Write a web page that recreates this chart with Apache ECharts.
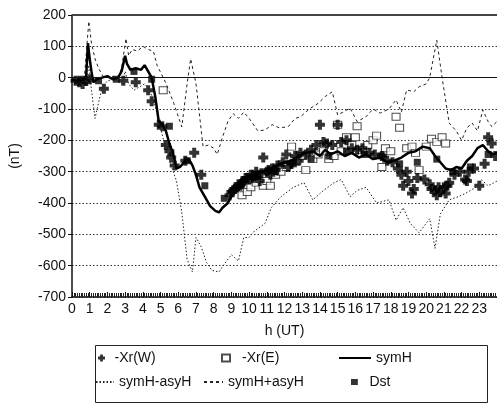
<!DOCTYPE html>
<html>
<head>
<meta charset="utf-8">
<script src="https://cdn.jsdelivr.net/npm/echarts@6/dist/echarts.min.js"></script>
<style>
  html, body { margin: 0; padding: 0; background: #fff; }
  #chart { width: 497px; height: 416px; }
</style>
</head>
<body>
<div id="chart"></div>
<script>
// axis ticks
var hourTicks = [0, 24, 1];          // min, max, step (h UT)
var nTTicks = [-700, 200, 100];      // min, max, step (nT)

// symH (solid line), [hour, nT]
var symH = [
  [0,-5],[0.3,-10],[0.6,-5],[0.8,5],[0.9,110],[1.0,60],[1.1,20],[1.2,-15],[1.4,-5],[1.7,0],
  [2.0,5],[2.3,-5],[2.6,0],[2.8,20],[3.0,70],[3.1,45],[3.3,25],[3.6,30],[3.9,25],[4.1,40],
  [4.3,20],[4.5,0],[4.7,-60],[4.9,-140],[5.1,-150],[5.3,-170],[5.5,-210],[5.7,-240],[5.9,-290],
  [6.1,-285],[6.4,-265],[6.6,-260],[6.8,-280],[7.0,-310],[7.2,-350],[7.5,-380],[7.8,-410],
  [8.1,-425],[8.3,-430],[8.5,-415],[8.8,-400],[9.0,-380],[9.3,-355],[9.6,-330],[10.0,-315],
  [10.4,-300],[10.8,-300],[11.2,-290],[11.6,-280],[12.0,-270],[12.4,-265],[12.8,-250],
  [13.2,-240],[13.6,-235],[14.0,-250],[14.3,-230],[14.6,-245],[15.0,-235],[15.4,-250],
  [15.8,-240],[16.2,-255],[16.6,-245],[17.0,-260],[17.4,-255],[17.8,-270],[18.2,-265],
  [18.6,-255],[19.0,-240],[19.4,-235],[19.8,-220],[20.2,-225],[20.5,-250],[20.8,-270],
  [21.1,-290],[21.4,-295],[21.7,-285],[22.0,-290],[22.3,-265],[22.6,-250],[22.9,-225],
  [23.2,-215],[23.5,-235],[23.8,-245],[24,-240]
];

// symH-asyH (dotted)
var symHMinusAsyH = [
  [0,-5],[0.4,-15],[0.8,-10],[0.95,40],[1.1,-40],[1.3,-130],[1.5,-80],[1.7,-30],[2.0,-10],
  [2.4,-5],[2.8,-20],[3.0,20],[3.2,-20],[3.5,-40],[3.8,-30],[4.1,-20],[4.4,-40],[4.7,-90],
  [5.0,-160],[5.3,-230],[5.6,-280],[5.9,-330],[6.2,-430],[6.5,-580],[6.8,-620],[7.0,-510],
  [7.3,-540],[7.6,-590],[7.9,-615],[8.3,-620],[8.6,-595],[9.0,-565],[9.4,-585],[9.7,-510],
  [10.0,-510],[10.3,-490],[10.9,-465],[11.25,-415],[11.8,-380],[12.5,-350],[13.1,-335],
  [13.6,-390],[14.2,-360],[14.8,-335],[15.2,-325],[15.7,-380],[16.1,-360],[16.6,-350],
  [17.2,-400],[17.9,-390],[18.3,-455],[18.7,-415],[19.1,-465],[19.6,-495],[20.2,-450],
  [20.5,-545],[20.8,-435],[21.3,-390],[21.8,-380],[22.2,-370],[22.8,-350],[23.1,-325],
  [23.5,-345],[24,-330]
];

// symH+asyH (dashed)
var symHPlusAsyH = [
  [0,0],[0.4,-25],[0.7,0],[0.95,180],[1.1,110],[1.3,60],[1.5,30],[1.8,0],[2.2,5],[2.6,0],
  [2.8,30],[3.05,125],[3.2,70],[3.4,90],[3.7,85],[4.0,100],[4.3,90],[4.6,84],[4.8,40],
  [5.3,-17],[5.75,-82],[6.2,-157],[6.5,-20],[6.7,60],[7.0,-18],[7.4,-220],[7.7,-215],
  [8.0,-225],[8.2,-245],[8.5,-190],[8.8,-140],[9.1,-115],[9.4,-130],[9.7,-110],[10.0,-130],
  [10.5,-170],[10.9,-167],[11.3,-150],[11.7,-160],[12.2,-157],[12.6,-130],[12.9,-125],
  [13.4,-100],[13.9,-82],[14.3,-60],[14.7,-45],[15.0,-119],[15.3,-110],[15.7,-97],
  [16.1,-140],[16.6,-125],[17.0,-100],[17.4,-113],[17.9,-100],[18.3,-71],[18.6,-110],
  [18.9,-39],[19.3,-45],[19.6,-29],[20.0,-20],[20.2,0],[20.6,120],[20.9,0],[21.3,-145],
  [21.7,-170],[22.0,-200],[22.3,-160],[22.6,-145],[22.9,-170],[23.2,-103],[23.5,-140],
  [23.7,-156],[24,-140]
];

// -Xr(W) (plus markers)
var xrW = [
  [0.2,-10],[0.4,-15],[0.6,-20],[0.8,-10],[1.0,-5],[1.8,-35],[2.9,-10],[3.6,-15],[4.3,-40],
  [4.5,-75],[4.9,-150],[5.1,-155],[5.3,-215],[5.5,-235],[5.6,-255],[5.8,-280],[6.4,-265],
  [6.9,-240],[7.3,-310],[8.9,-375],[9.0,-365],[9.1,-360],[9.2,-355],[9.3,-350],[9.4,-340],
  [9.5,-345],[9.6,-335],[9.7,-330],[9.8,-320],[9.9,-320],[10.0,-325],[10.1,-310],[10.2,-320],
  [10.3,-315],[10.4,-300],[10.6,-330],[10.7,-305],[10.8,-255],[11.0,-300],[11.1,-295],
  [11.2,-310],[11.3,-290],[11.5,-295],[11.6,-280],[11.9,-270],[12.1,-245],[12.2,-285],
  [12.4,-275],[12.6,-250],[12.8,-265],[12.9,-240],[13.2,-245],[13.5,-230],[13.8,-215],
  [14.0,-150],[14.2,-205],[14.4,-210],[14.7,-215],[15.0,-150],[15.2,-205],[15.5,-200],
  [15.8,-225],[16.1,-230],[16.4,-225],[16.8,-240],[17.1,-245],[17.5,-250],[17.8,-265],
  [18.1,-270],[18.4,-290],[18.6,-310],[18.7,-345],[18.9,-300],[19.0,-330],[19.2,-370],
  [19.3,-355],[19.5,-320],[19.9,-325],[20.2,-340],[20.3,-355],[20.5,-360],[20.6,-375],
  [20.7,-350],[20.8,-365],[21.0,-350],[21.1,-370],[21.2,-345],[21.3,-335],[21.6,-310],
  [21.9,-300],[22.2,-325],[22.3,-330],[22.4,-300],[22.7,-290],[23.0,-345],[23.3,-275],
  [23.5,-190],[23.7,-210],[23.9,-250]
];

// -Xr(E) (open squares)
var xrE = [
  [5.15,-40],[9.6,-375],[9.9,-365],[10.1,-350],[10.4,-335],[10.8,-345],[11.0,-330],
  [11.2,-345],[11.5,-310],[11.8,-300],[12.1,-285],[12.4,-220],[12.7,-265],[13.0,-250],
  [13.2,-295],[13.6,-260],[13.9,-245],[14.2,-235],[14.5,-260],[14.8,-250],[15.0,-150],
  [15.2,-235],[15.5,-190],[15.8,-215],[16.0,-190],[16.1,-155],[16.4,-230],[16.7,-215],
  [17.0,-200],[17.2,-185],[17.5,-285],[17.7,-225],[18.0,-235],[18.3,-125],[18.5,-160],
  [18.9,-225],[19.2,-220],[19.4,-240],[19.6,-295],[20.0,-220],[20.3,-195],[20.6,-205],
  [20.9,-190],[21.1,-210]
];

// Dst (filled squares, hourly)
var dst = [
  [0.5,-5],[1.5,-10],[2.5,-5],[3.5,20],[4.5,-5],[5.5,-155],[6.5,-265],[7.5,-345],[8.6,-385],
  [9.5,-345],[10.5,-315],[11.5,-300],[12.5,-275],[13.5,-260],[14.5,-250],[15.5,-235],
  [16.5,-245],[17.5,-250],[18.5,-275],[19.5,-270],[20.6,-260],[21.5,-300],[22.5,-285],
  [23.5,-245]
];

var FONT = 'Liberation Sans, Arial, sans-serif';
var crossPath = 'path://M3,0H7V3H10V7H7V10H3V7H0V3H3Z';
var squarePath = 'path://M0,0H8V7H0Z';
var hideDot = { color: 'rgba(0,0,0,0)', borderColor: 'rgba(0,0,0,0)', borderWidth: 0 };

var myChart = echarts.init(document.getElementById('chart'), null, { renderer: 'canvas' });

function legendAt(name, left, top, w, h, icon) {
  var item = { name: name };
  if (icon) item.icon = icon;
  else item.itemStyle = hideDot;   // line entries: line sample only
  return {
    data: [item], left: left, top: top, padding: 0,
    itemWidth: w, itemHeight: h, itemGap: 0,
    textStyle: { fontFamily: FONT, fontSize: 14, color: '#111' },
    selectedMode: false
  };
}

var option = {
  animation: false,
  backgroundColor: '#fff',
  grid: { left: 68, top: 15, width: 431, height: 282 },
  legend: [
    legendAt('-Xr(W)', 98, 351, 16, 7, crossPath),
    legendAt('-Xr(E)', 221, 351, 22, 7, squarePath),
    legendAt('symH', 338, 351, 32, 10),
    legendAt('symH-asyH', 95, 375, 18, 10),
    legendAt('symH+asyH', 203, 375, 19, 10),
    legendAt('Dst', 351, 375, 20, 6, squarePath)
  ],
  graphic: [{
    type: 'rect', left: 93, top: 343, shape: { width: 392, height: 57 },
    style: { fill: 'none', stroke: '#222', lineWidth: 1 }, silent: true
  }],
  xAxis: {
    type: 'value', min: hourTicks[0], max: hourTicks[1], interval: hourTicks[2],
    name: 'h (UT)', nameLocation: 'middle', nameGap: 27,
    nameTextStyle: { fontFamily: FONT, fontSize: 14, color: '#111' },
    axisLine: { onZero: false, lineStyle: { color: '#111', width: 1.5 } },
    axisTick: { inside: true, length: 5, lineStyle: { color: '#111' } },
    minorTick: { show: true, splitNumber: 10, length: 4, lineStyle: { color: '#222' } },
    axisLabel: { fontFamily: FONT, fontSize: 14, color: '#111', margin: 5, showMaxLabel: false },
    splitLine: { show: false }
  },
  yAxis: {
    type: 'value', min: nTTicks[0], max: nTTicks[1], interval: nTTicks[2],
    name: '(nT)', nameLocation: 'middle', nameGap: 50, nameRotate: 90,
    nameTextStyle: { fontFamily: FONT, fontSize: 14, color: '#111' },
    axisLine: { show: true, lineStyle: { color: '#111', width: 1.5 } },
    axisTick: { show: true, length: 4, lineStyle: { color: '#111' } },
    axisLabel: { fontFamily: FONT, fontSize: 14, color: '#111', margin: 6 },
    splitLine: { show: true, lineStyle: { color: '#333', width: 1, type: [1.5, 2] } }
  },
  series: [
    {
      name: 'symH-asyH', type: 'line', data: symHMinusAsyH, symbol: 'none',
      lineStyle: { color: '#222', width: 1, type: [1.5, 2] }, itemStyle: { color: '#222' }
    },
    {
      name: 'symH+asyH', type: 'line', data: symHPlusAsyH, symbol: 'none',
      lineStyle: { color: '#222', width: 1, type: [3, 3] }, itemStyle: { color: '#222' }
    },
    {
      name: 'symH', type: 'line', data: symH, symbol: 'none',
      lineStyle: { color: '#000', width: 2.5 }, itemStyle: { color: '#000' },
      markLine: {
        silent: true, symbol: 'none', label: { show: false },
        data: [
          { yAxis: 0, lineStyle: { color: '#111', width: 1.2, type: 'solid' } },
          { yAxis: 200, lineStyle: { color: '#444', width: 2, type: 'solid' } }
        ]
      }
    },
    {
      name: '-Xr(E)', type: 'scatter', data: xrE, symbol: 'rect', symbolSize: [8, 7],
      itemStyle: { color: '#fff', borderColor: '#222', borderWidth: 1 }
    },
    {
      name: 'Dst', type: 'scatter', data: dst, symbol: 'rect', symbolSize: 7,
      itemStyle: { color: '#000' }
    },
    {
      name: '-Xr(W)', type: 'scatter', data: xrW, symbol: crossPath, symbolSize: 10,
      itemStyle: { color: '#000' }
    }
  ]
};

myChart.setOption(option);
</script>
</body>
</html>
